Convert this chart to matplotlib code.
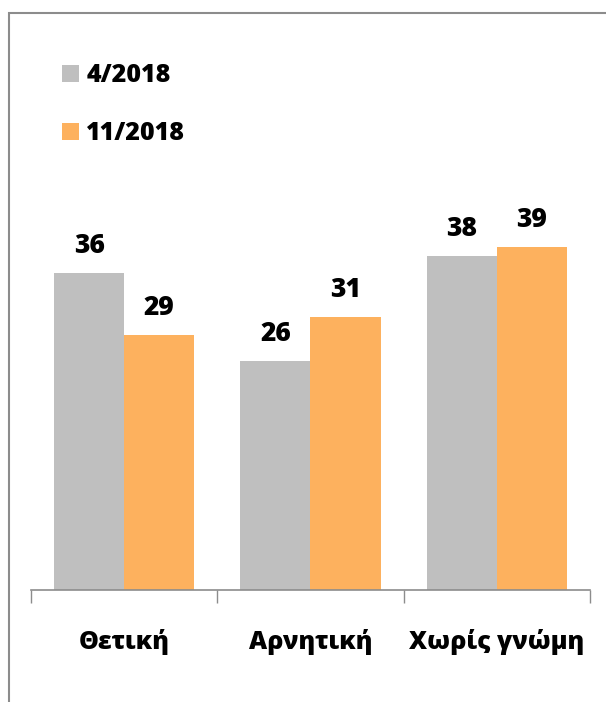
import matplotlib.pyplot as plt
import numpy as np
from matplotlib.patches import Rectangle

categories = ['Θετική', 'Αρνητική', 'Χωρίς γνώμη']
series_names = ['4/2018', '11/2018']
values_apr = [36, 26, 38]
values_nov = [29, 31, 39]
colours = ['#BFBFBF', '#FDB15E']

plt.rcParams['font.family'] = ['Open Sans', 'DejaVu Sans']
plt.rcParams['font.weight'] = 'bold'

fig = plt.figure(figsize=(6.06, 7.02), dpi=100)
fig.patch.set_facecolor('white')

ax = fig.add_axes([31 / 606, 1 - 590 / 702, 559 / 606, 396 / 702])

x = np.arange(len(categories))
w = 0.376
bars1 = ax.bar(x - w / 2, values_apr, width=w, color=colours[0], label=series_names[0], zorder=2)
bars2 = ax.bar(x + w / 2, values_nov, width=w, color=colours[1], label=series_names[1], zorder=2)

ax.bar_label(bars1, padding=10, fontsize=19, fontweight='heavy', clip_on=False)
ax.bar_label(bars2, padding=10, fontsize=19, fontweight='heavy', clip_on=False)

ax.set_xlim(-0.5, len(categories) - 0.5)
ax.set_ylim(0, 45)

# x axis: ticks at category boundaries, labels on minor ticks at centres
ax.set_xticks(np.arange(len(categories) + 1) - 0.5)
ax.set_xticklabels([])
ax.set_xticks(x, categories, minor=True)
ax.tick_params(axis='x', which='major', direction='out', length=9, width=1, color='#8C8C8C')
ax.tick_params(axis='x', which='minor', length=0, pad=28, labelsize=18)
for lbl in ax.get_xticklabels(minor=True):
    lbl.set_fontweight('heavy')
ax.set_yticks([])

ax.spines[['top', 'left', 'right']].set_visible(False)
ax.spines['bottom'].set_color('#8C8C8C')
ax.spines['bottom'].set_linewidth(1.2)
ax.set_facecolor('none')

ax.legend(loc='upper left', bbox_to_anchor=(40 / 606, 1 - 41 / 702), bbox_transform=fig.transFigure,
          frameon=False, handlelength=0.65, handleheight=0.65, handletextpad=0.3,
          labelspacing=1.3, prop={'weight': 'heavy', 'size': 18})

# outer chart frame (runs off the right and bottom edges)
fig.patches.append(Rectangle((8.5 / 606, -0.1), 1.2, 1.1 - 13 / 702, transform=fig.transFigure,
                             fill=False, edgecolor='#8C8C8C', linewidth=1.5))

fig.savefig('out.png', dpi=100)
